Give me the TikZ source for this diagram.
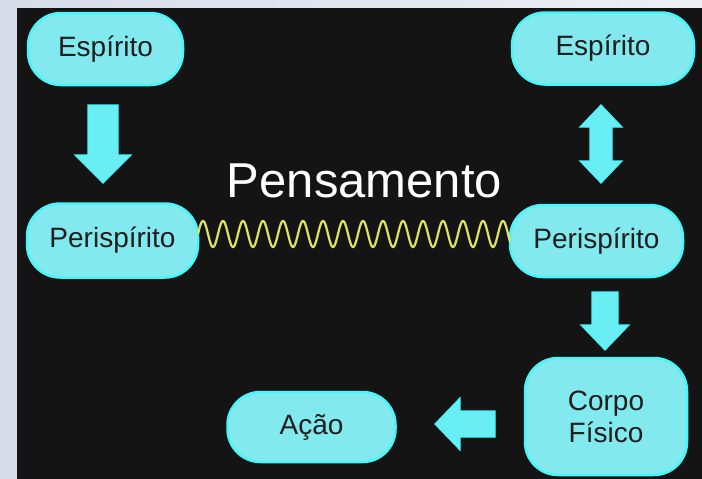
\documentclass[tikz,border=0pt]{standalone}
\usepackage{fontspec}
\setmainfont{Liberation Sans}
\definecolor{bgoutl}{RGB}{214,220,232}
\definecolor{bgoutr}{RGB}{236,239,245}
\definecolor{panel}{RGB}{20,20,20}
\definecolor{boxfill}{RGB}{130,234,238}
\definecolor{boxedge}{RGB}{72,246,250}
\definecolor{boxtext}{RGB}{30,30,30}
\definecolor{wavec}{RGB}{222,230,95}
\definecolor{arrowc}{RGB}{105,238,244}
\begin{document}
\begin{tikzpicture}[x=1pt,y=-1pt,
  box/.style={draw=boxedge, line width=2.5pt, fill=boxfill, rounded corners=33pt,
    inner sep=0pt, text=boxtext, font=\fontsize{28}{32}\selectfont, align=center},
  blockarrow/.style={fill=arrowc, draw=boxedge, line width=1.2pt, line join=miter},
  wave/.style={draw=wavec, line width=2.2pt}]
\useasboundingbox (0,0) rectangle (702,479);
\fill[left color=bgoutl, right color=bgoutr] (0,0) rectangle (702,479);
\fill[panel] (17,8) rectangle (702,479);
% nodes
\node[box, minimum width=155pt, minimum height=72pt] (e1) at (105.5,49) {Espírito};
\node[box, minimum width=182pt, minimum height=72pt] (e2) at (603,48.5) {Espírito};
\node[box, minimum width=171pt, minimum height=74pt] (p1) at (112.5,240.5) {Perispírito};
\node[box, minimum width=173pt, minimum height=72pt] (p2) at (596.5,241) {Perispírito};
\node[box, minimum width=162pt, minimum height=117pt] (cf) at (606,416.5) {Corpo\\Físico};
\node[box, minimum width=168pt, minimum height=70pt] (ac) at (311.5,427) {Ação};
\node[anchor=base, text=white, font=\fontsize{49}{58}\selectfont, inner sep=0pt] (pens) at (364.5,197) {Pensamento};
% wave from p1 to p2
\coordinate (w0) at ([yshift=6.5pt]p1.east);
\draw[wave] (w0) plot[domain=0:312, samples=600] ({198+\x},{234-13*sin(\x*18)});
% block arrows
\path[blockarrow] (88,105) -- (118,105) -- (118,155) -- (131,155) -- (103,183) -- (75,155) -- (88,155) -- cycle;
\path[blockarrow] (601,105) -- (622,127) -- (612,127) -- (612,161) -- (622,161) -- (601,183) -- (580,161) -- (590,161) -- (590,127) -- (580,127) -- cycle;
\path[blockarrow] (592,292) -- (618,292) -- (618,325) -- (629,325) -- (605,350) -- (581,325) -- (592,325) -- cycle;
\path[blockarrow] (495,411) -- (495,437) -- (460,437) -- (460,450) -- (435,424) -- (460,398) -- (460,411) -- cycle;
\end{tikzpicture}
\end{document}
